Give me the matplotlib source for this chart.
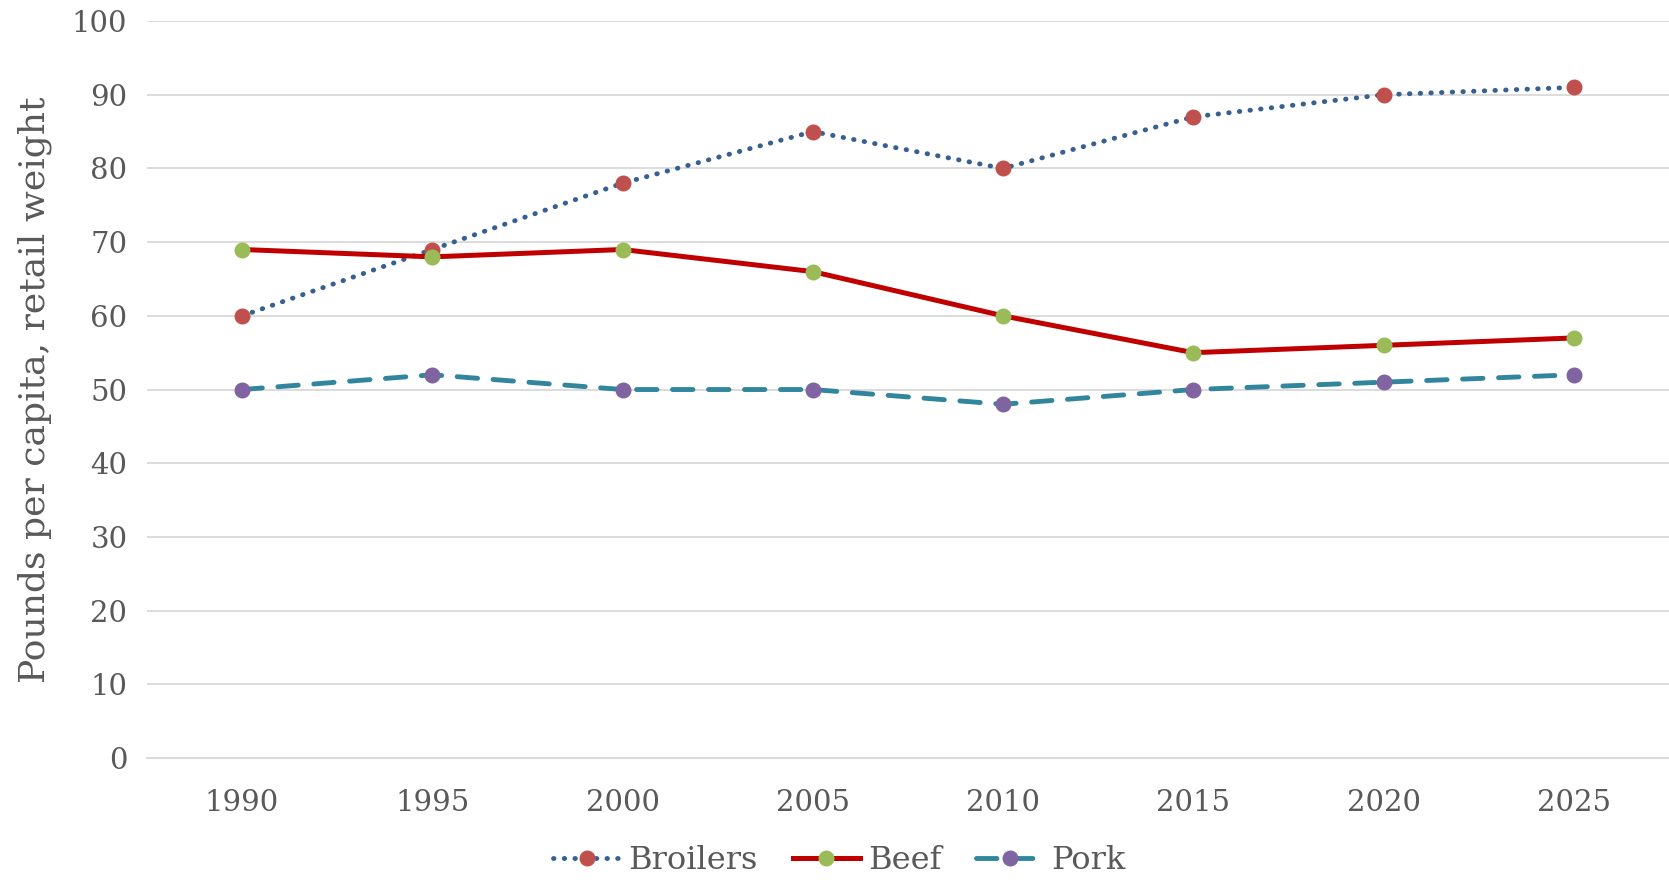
import matplotlib
matplotlib.use("Agg")
import matplotlib.pyplot as plt

years = ["1990", "1995", "2000", "2005", "2010", "2015", "2020", "2025"]
broilers = [60, 69, 78, 85, 80, 87, 90, 91]
beef = [69, 68, 69, 66, 60, 55, 56, 57]
pork = [50, 52, 50, 50, 48, 50, 51, 52]

TEXT = "#595959"
plt.rcParams['font.family'] = ['DejaVu Serif']

fig = plt.figure(figsize=(16.69, 8.8), dpi=100)
ax = fig.add_axes([0.088, 0.1386, 0.912, 0.8375])

x = range(len(years))
# markers on top of lines, like the spreadsheet chart
ax.plot(x, broilers, color="#376092", linestyle=(0, (0.1, 2.1)), linewidth=3.5,
        dash_capstyle="round", marker="o", markersize=10.5,
        markerfacecolor="#C0504D", markeredgecolor="#C0504D", label="Broilers", zorder=3)
ax.plot(x, beef, color="#C00000", linestyle="-", linewidth=3.6,
        marker="o", markersize=10.5,
        markerfacecolor="#9BBB59", markeredgecolor="#9BBB59", label="Beef", zorder=3)
ax.plot(x, pork, color="#31859C", linestyle=(0, (4.2, 3.2)), linewidth=3.5,
        dash_capstyle="round", marker="o", markersize=10.5,
        markerfacecolor="#8064A2", markeredgecolor="#8064A2", label="Pork", zorder=3)

ax.set_xlim(-0.5, len(years) - 0.5)
ax.set_ylim(0, 100)
ax.set_yticks(range(0, 101, 10))
ax.set_xticks(list(x))
ax.set_xticklabels(years)
ax.grid(axis="y", color="#D9D9D9", linewidth=1.3)
ax.set_axisbelow(True)
for s in ["top", "right", "left"]:
    ax.spines[s].set_visible(False)
ax.spines["bottom"].set_color("#D9D9D9")
ax.spines["bottom"].set_linewidth(1.3)
ax.tick_params(length=0, labelsize=21, colors=TEXT, pad=14)
ax.tick_params(axis="x", pad=22)
ax.set_ylabel("Pounds per capita, retail weight", fontsize=26, color=TEXT, labelpad=14)

leg = fig.legend(loc="center", bbox_to_anchor=(0.503, 0.022), ncol=3, frameon=False,
                 fontsize=23, handlelength=2.1, columnspacing=1.1, handletextpad=0.25)
for t in leg.get_texts():
    t.set_color(TEXT)

fig.savefig("out.png", dpi=100)
